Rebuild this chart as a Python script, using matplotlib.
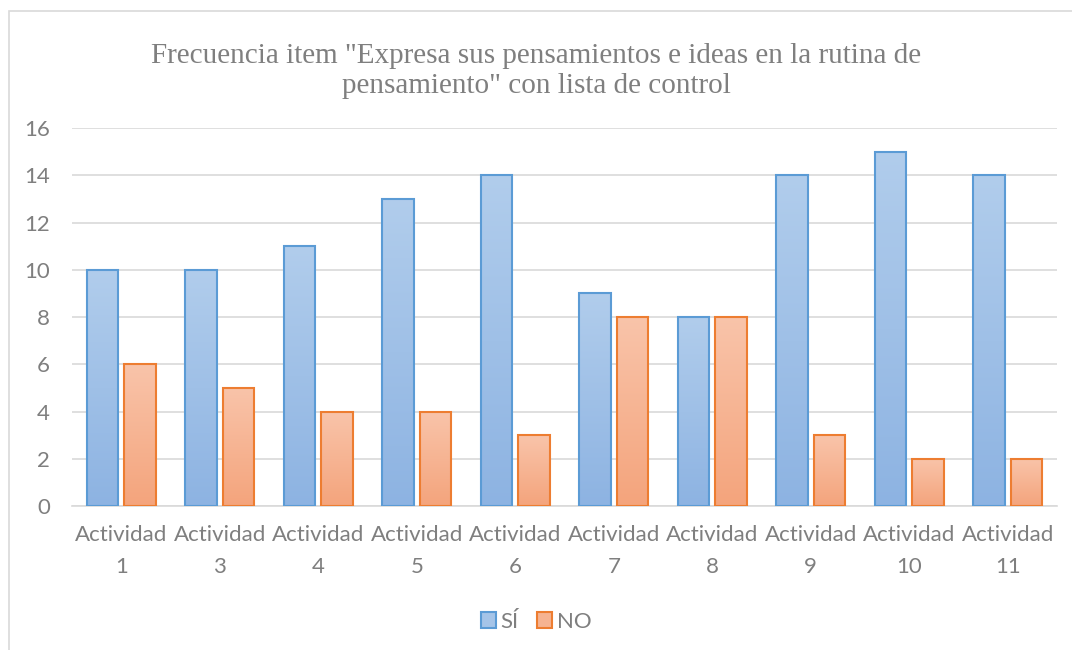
import matplotlib
matplotlib.use('Agg')
import matplotlib.pyplot as plt
import numpy as np
from matplotlib.patches import Rectangle, Patch
from matplotlib.colors import LinearSegmentedColormap

categories = ['Actividad\n1', 'Actividad\n3', 'Actividad\n4', 'Actividad\n5', 'Actividad\n6',
              'Actividad\n7', 'Actividad\n8', 'Actividad\n9', 'Actividad\n10', 'Actividad\n11']
si_values = [10, 10, 11, 13, 14, 9, 8, 14, 15, 14]
no_values = [6, 5, 4, 4, 3, 8, 8, 3, 2, 2]
series_names = ['SÍ', 'NO']
title = 'Frecuencia item "Expresa sus pensamientos e ideas en la rutina de\npensamiento" con lista de control'

grey = '#7f7f7f'
fig = plt.figure(figsize=(10.72, 6.5), dpi=100)
ax = fig.add_axes([0.0672, 0.2215, 0.9188, 0.5815])

# outer chart border (right/bottom edges fall outside the image)
fig.patches.append(Rectangle((9 / 1072, -0.1), 1.2, (650 - 11) / 650 + 0.1,
                             transform=fig.transFigure, fill=False,
                             edgecolor='#d9d9d9', linewidth=1.2))

x = np.arange(len(categories))
width = 0.32
offset = 0.19

def gradient_bars(xs, vals, top_col, bot_col, edge):
    cmap = LinearSegmentedColormap.from_list('g', [bot_col, top_col])
    grad = np.linspace(0, 1, 256).reshape(-1, 1)
    bars = ax.bar(xs, vals, width, facecolor='none', edgecolor=edge, linewidth=1.5, zorder=3)
    for b in bars:
        x0, y0 = b.get_x(), b.get_y()
        w, h = b.get_width(), b.get_height()
        im = ax.imshow(grad, extent=[x0, x0 + w, y0, y0 + h], origin='lower',
                       cmap=cmap, aspect='auto', zorder=2)
        im.set_clip_path(b)
    return bars

gradient_bars(x - offset, si_values, '#b1cdec', '#8db3e2', '#5b9bd5')
gradient_bars(x + offset, no_values, '#f9c4aa', '#f4a47c', '#ed7d31')

ax.set_xlim(-0.5, len(categories) - 0.5)
ax.set_ylim(0, 16)
ax.set_yticks(np.arange(0, 17, 2))
ax.set_xticks(x)
ax.set_xticklabels(categories, fontsize=16, color=grey, family='Lato', linespacing=1.75)
for lab in ax.get_yticklabels():
    lab.set_fontsize(16)
    lab.set_color(grey)
    lab.set_family('Lato')
ax.tick_params(length=0, pad=14)
ax.tick_params(axis='y', pad=16)
ax.grid(axis='y', color='#d9d9d9', linewidth=1.2, zorder=0)
ax.set_axisbelow(True)
for s in ['top', 'right', 'left']:
    ax.spines[s].set_visible(False)
ax.spines['bottom'].set_color('#d9d9d9')
ax.spines['bottom'].set_linewidth(1.2)

fig.text(0.5, 0.848, title, ha='center', va='bottom', fontsize=21, color=grey,
         family='Liberation Serif', linespacing=1.2)

handles = [Patch(facecolor='#a5c4e8', edgecolor='#5b9bd5', linewidth=1.5),
           Patch(facecolor='#f6b391', edgecolor='#ed7d31', linewidth=1.5)]
fig.legend(handles, series_names, loc='center', bbox_to_anchor=(0.5, 0.043), ncol=2,
           frameon=False, handlelength=0.7, handleheight=0.7, handletextpad=0.2,
           columnspacing=0.8, prop={'family': 'Lato', 'size': 16}, labelcolor=grey)

fig.savefig('out.png', dpi=100)
